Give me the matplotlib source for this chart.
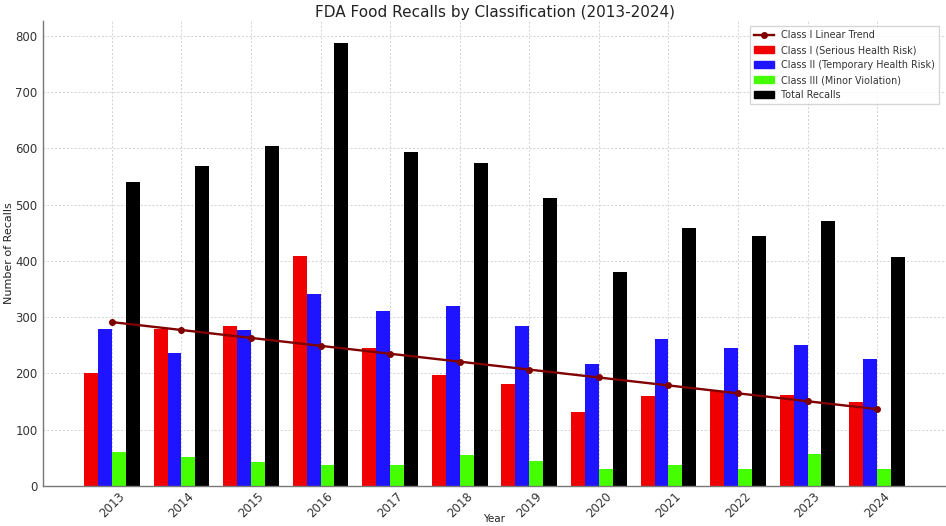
import numpy as np
import matplotlib
matplotlib.use("Agg")
import matplotlib.pyplot as plt
from matplotlib.lines import Line2D
from matplotlib.patches import Patch

years = [2013, 2014, 2015, 2016, 2017, 2018, 2019, 2020, 2021, 2022, 2023, 2024]
class_i = [200, 279, 284, 408, 246, 197, 181, 132, 159, 169, 162, 149]
class_ii = [278, 236, 277, 341, 310, 319, 285, 216, 262, 246, 250, 226]
class_iii = [60, 52, 42, 38, 37, 55, 44, 30, 37, 30, 57, 30]
total = [540, 568, 604, 787, 594, 574, 511, 380, 459, 444, 470, 406]

labels = ["Class I Linear Trend", "Class I (Serious Health Risk)",
          "Class II (Temporary Health Risk)", "Class III (Minor Violation)",
          "Total Recalls"]
c_red, c_blue, c_green, c_black, c_trend = "#f00000", "#1f14ff", "#45ff00", "#000000", "#800000"

fig = plt.figure(figsize=(9.46, 5.26), dpi=100)
ax = fig.add_axes([43 / 946, 40 / 526, (946 - 43) / 946, (486 - 21) / 526])

x = np.array(years, dtype=float)
w = 0.2
ax.bar(x - 1.5 * w, class_i, w, color=c_red, zorder=2)
ax.bar(x - 0.5 * w, class_ii, w, color=c_blue, zorder=2)
ax.bar(x + 0.5 * w, class_iii, w, color=c_green, zorder=2)
ax.bar(x + 1.5 * w, total, w, color=c_black, zorder=2)

coef = np.polyfit(x, class_i, 1)
trend = np.polyval(coef, x)
ax.plot(x, trend, color=c_trend, marker="o", markersize=4, linewidth=1.7, zorder=3)

ax.set_xticks(years)
ax.set_xticklabels([str(y) for y in years], rotation=45, fontsize=8.5, color="#333333")
ax.tick_params(axis="y", labelsize=8.5, labelcolor="#333333", pad=4)
ax.tick_params(axis="x", pad=3)
ax.tick_params(axis="both", length=0)
ax.set_yticks([0, 100, 200, 300, 400, 500, 600, 700, 800])
ax.set_ylim(0, 826)
ax.set_xlim(2012.01, 2024.99)

ax.grid(True, linestyle=(0, (2, 2)), color="#d0d0d0", linewidth=0.7)
ax.set_axisbelow(True)
for s in ["top", "right"]:
    ax.spines[s].set_visible(False)
for s in ["left", "bottom"]:
    ax.spines[s].set_color("#777777")
    ax.spines[s].set_linewidth(1.0)

ax.set_title("FDA Food Recalls by Classification (2013-2024)", fontsize=11, color="#222222", pad=3)
ax.set_ylabel("Number of Recalls", fontsize=8, color="#222222", labelpad=1)
ax.set_xlabel("Year", fontsize=7.5, color="#222222", labelpad=-5)

handles = [
    Line2D([0], [0], color=c_trend, marker="o", markersize=4, linewidth=1.7),
    Patch(color=c_red), Patch(color=c_blue), Patch(color=c_green), Patch(color=c_black),
]
leg = ax.legend(handles, labels, loc="upper right", fontsize=6.9, frameon=True,
                fancybox=False, edgecolor="#cccccc", borderpad=0.45, labelspacing=0.52,
                handlelength=2.0, handletextpad=0.8, bbox_to_anchor=(0.998, 1.0))
for t in leg.get_texts():
    t.set_color("#333333")

fig.savefig("out.png", dpi=100)
